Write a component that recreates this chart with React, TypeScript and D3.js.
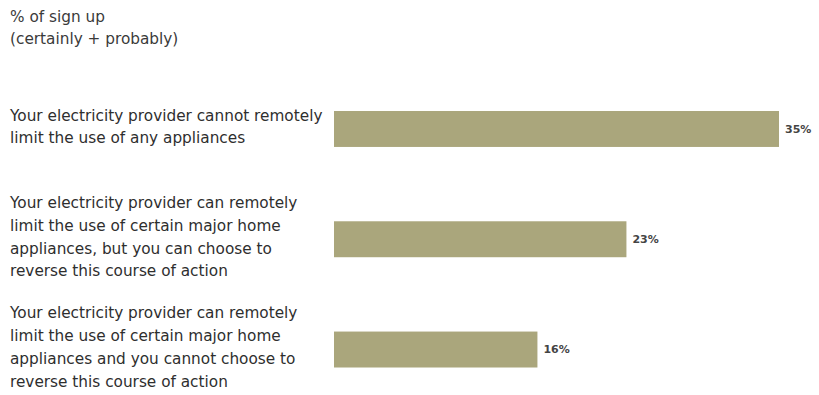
import React from "react";
import * as d3 from "d3";

const categories: string[][] = [
  ["Your electricity provider cannot remotely", "limit the use of any appliances"],
  [
    "Your electricity provider can remotely",
    "limit the use of certain major home",
    "appliances, but you can choose to",
    "reverse this course of action",
  ],
  [
    "Your electricity provider can remotely",
    "limit the use of certain major home",
    "appliances and you cannot choose to",
    "reverse this course of action",
  ],
];
const values: number[] = [35, 23, 16];
const valueLabels: string[] = ["35%", "23%", "16%"];
const titleLines: string[] = ["% of sign up", "(certainly + probably)"];

const W = 819;
const H = 395;
const FONT = "'DejaVu Sans', sans-serif";

export default function App() {
  const ids = categories.map((_, i) => String(i));
  const x = d3.scaleLinear().domain([0, 35]).range([334, 779]);
  const y = d3.scaleBand().domain(ids).range([73.5, 405]).paddingInner(0.674).paddingOuter(0.34);
  const lh = 22.8;

  return (
    <svg
      width={W}
      height={H}
      style={{ position: "absolute", left: 0, top: 0, background: "#fff" }}
      fontFamily={FONT}
    >
      {titleLines.map((t, i) => (
        <text key={t} x={10} y={22 + i * 22} fontSize={15.3} fill="#3a3a3a">
          {t}
        </text>
      ))}
      {categories.map((lines, i) => {
        const yc = (y(ids[i]) as number) + y.bandwidth() / 2;
        const first = yc - ((lines.length - 1) / 2) * lh + 3;
        return (
          <g key={i}>
            {lines.map((l, j) => (
              <text key={j} x={10} y={first + j * lh} fontSize={15.3} fill="#2e2e2e">
                {l}
              </text>
            ))}
            <rect
              x={x(0)}
              y={y(ids[i])}
              width={x(values[i]) - x(0)}
              height={y.bandwidth()}
              fill="#aaa67c"
            />
            <text
              x={x(values[i]) + 6}
              y={yc}
              dy="0.35em"
              fontSize={11}
              fontWeight="bold"
              fill="#444"
            >
              {valueLabels[i]}
            </text>
          </g>
        );
      })}
    </svg>
  );
}
